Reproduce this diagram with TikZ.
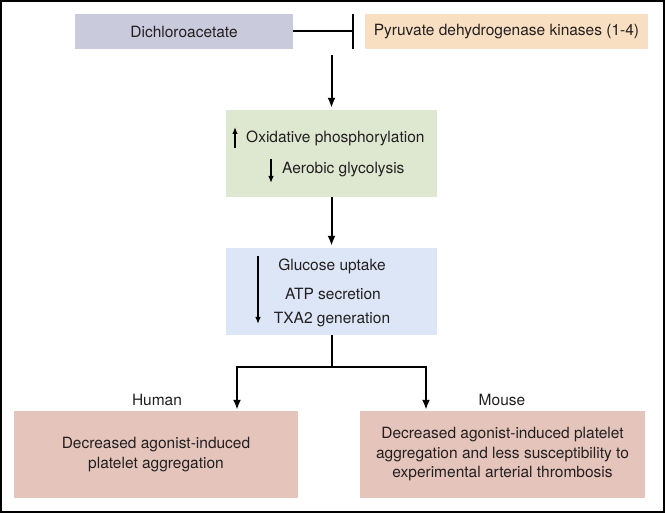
\documentclass[tikz,border=0pt]{standalone}
\usepackage{fontspec}
\setmainfont{TeX Gyre Heros}
\usetikzlibrary{arrows.meta}
\definecolor{dcacol}{HTML}{C9CADC}
\definecolor{pdkcol}{HTML}{F9DFC2}
\definecolor{greencol}{HTML}{DEE8D0}
\definecolor{bluecol}{HTML}{DCE6F6}
\definecolor{pinkcol}{HTML}{E5C5BB}
\definecolor{ink}{HTML}{231F20}
\begin{document}
\begin{tikzpicture}[x=1pt,y=-1pt,
  font=\fontsize{15.5}{19.5}\selectfont,
  box/.style={inner sep=0pt, align=center, text=ink},
  arr/.style={line width=2pt, line join=miter, -{Latex[length=10pt,width=8pt]}},
  thinarr/.style={line width=1.3pt, -{Latex[length=7pt,width=5.5pt]}},
  lbl/.style={inner sep=0pt, anchor=center, text=ink}]
\useasboundingbox (0,0) rectangle (665,513);
\draw[line width=2pt, black] (1,1) rectangle (664,512);
% boxes
\node[box, fill=dcacol, minimum width=218pt, minimum height=35pt] (dca) at (184,31.5) {Dichloroacetate};
\node[box, fill=pdkcol, minimum width=283pt, minimum height=35pt] (pdk) at (506.5,31.5) {Pyruvate dehydrogenase kinases (1-4)};
\node[box, fill=greencol, minimum width=211pt, minimum height=87pt] (green) at (331.5,153.5) {};
\node[box, fill=bluecol, minimum width=211pt, minimum height=87pt] (blue) at (331.5,291.5) {};
\node[box, fill=pinkcol, minimum width=284pt, minimum height=87pt] (human) at (156,454.5) {Decreased agonist-induced\\platelet aggregation};
\node[box, fill=pinkcol, minimum width=285pt, minimum height=87pt] (mouse) at (502.5,454.5) {Decreased agonist-induced platelet\\aggregation and less susceptibility to\\experimental arterial thrombosis};
% texts inside green and blue
\node[lbl, anchor=west] (oxp) at (246,138) {Oxidative phosphorylation};
\node[lbl, anchor=west] (aer) at (282,170) {Aerobic glycolysis};
\node[lbl] (glu) at (332,266) {Glucose uptake};
\node[lbl] (atp) at (333,294) {ATP secretion};
\node[lbl] (txa) at (332,320) {TXA2 generation};
% labels
\node[lbl] (hl) at (157,400) {Human};
\node[lbl] (ml) at (502,400) {Mouse};
% inline arrows
\coordinate (upb) at (235,148);
\coordinate (upt) at (235,127);
\draw[thinarr] (upb) -- (upt);
\coordinate (dnt) at (271,159);
\coordinate (dnb) at (271,183);
\draw[thinarr] (dnt) -- (dnb);
\coordinate (lgt) at (258,256);
\coordinate (lgb) at (258,324);
\draw[thinarr] (lgt) -- (lgb);
% inhibition
\draw[line width=2pt, -{Bar[width=35pt,line width=2pt]}, shorten >=11pt] (dca.east) -- (pdk.west);
% main arrows
\coordinate (top) at (331.5,55);
\draw[arr, shorten >=2pt] (top) -- (green.north);
\draw[arr, shorten >=2pt] (green.south) -- (blue.north);
\coordinate (bl) at (237,367);
\coordinate (br) at (426,367);
\draw[arr, shorten >=1pt] (blue.south) |- (bl) -- (human.north -| bl);
\draw[arr, shorten >=1pt] (blue.south) |- (br) -- (mouse.north -| br);
\end{tikzpicture}
\end{document}
